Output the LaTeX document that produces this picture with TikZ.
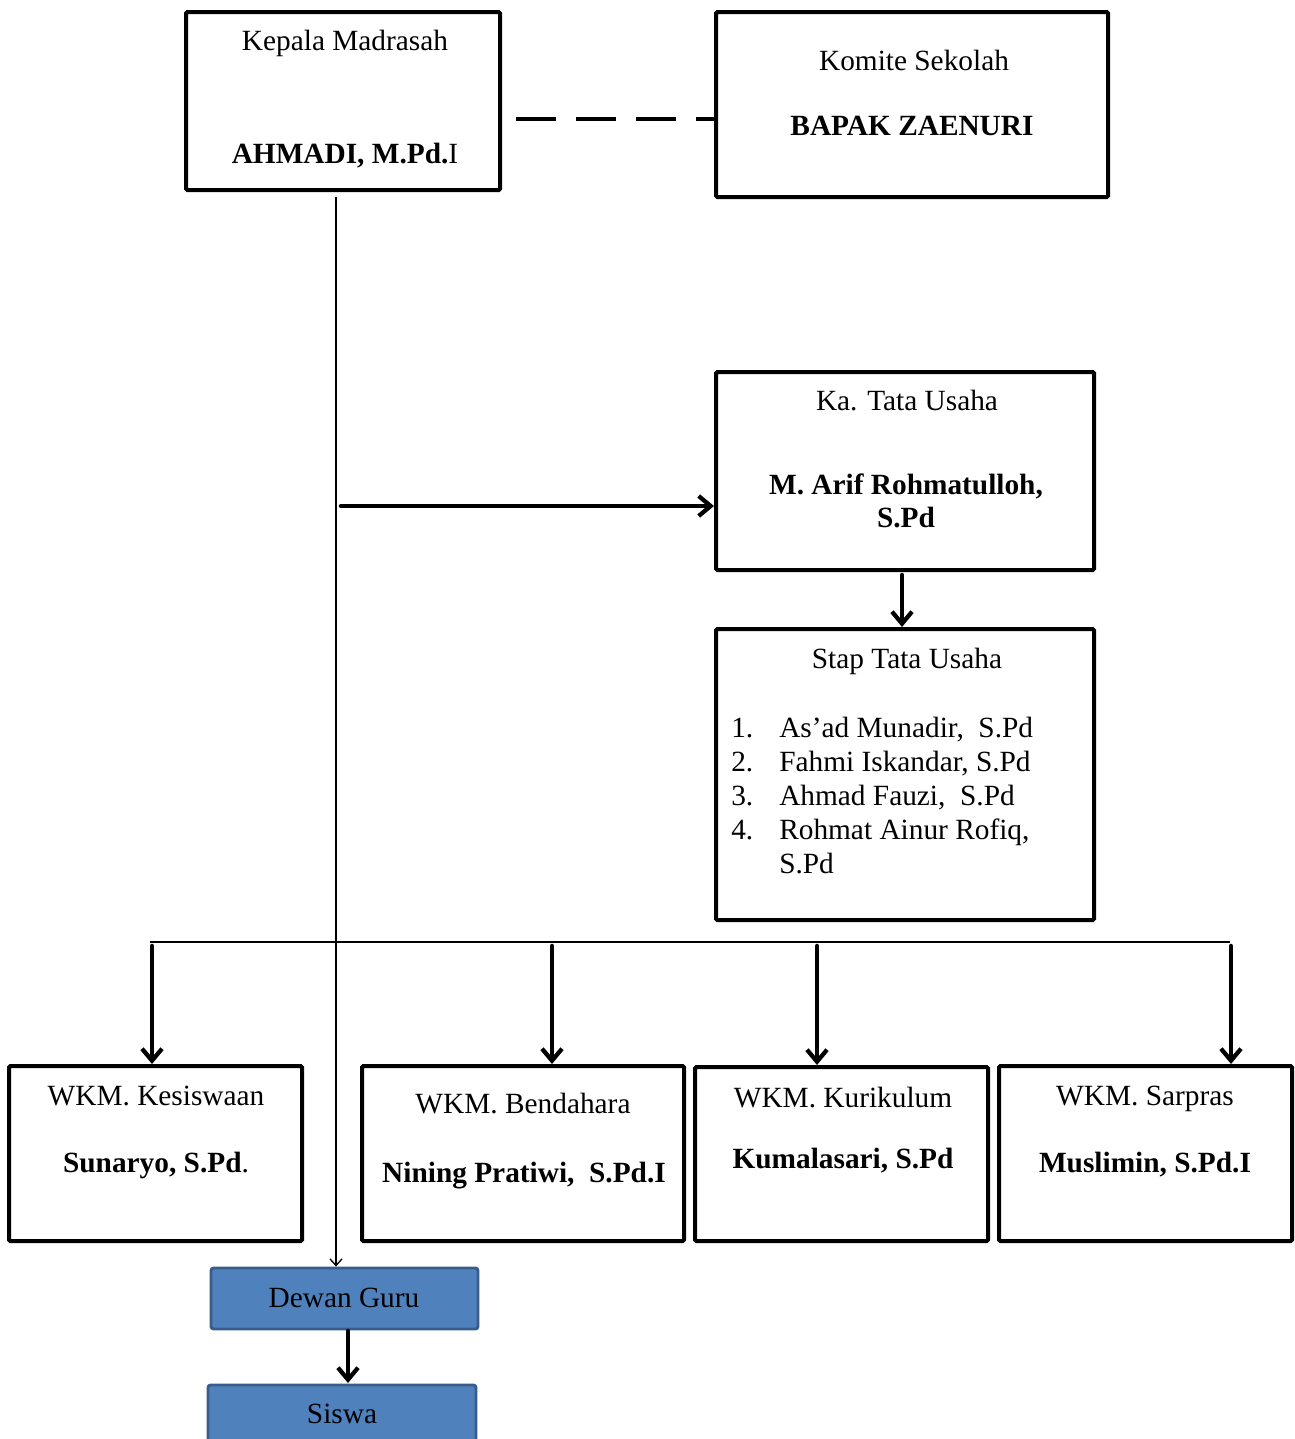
\documentclass[tikz,border=0pt]{standalone}
\usepackage{fontspec}
\setmainfont{Liberation Serif}
\usetikzlibrary{arrows.meta,fit}
\definecolor{boxblue}{HTML}{4F81BD}
\definecolor{boxblueedge}{HTML}{385D8A}
\tikzset{
  box/.style={draw=black, line width=3pt, inner sep=0pt, rounded corners=1pt},
  bluebox/.style={draw=boxblueedge, fill=boxblue, line width=2.2pt, inner sep=0pt, rounded corners=2pt},
  txt/.style={font=\fontsize{22}{26}\selectfont, inner sep=0pt, text height=0.68em, text depth=0.2em, yshift=-4.5pt},
  bold/.style={txt, font=\fontsize{22}{26}\selectfont\bfseries},
  thickarrow/.style={line width=3.4pt, line cap=round, -{Straight Barb[length=9pt,width=15pt,line width=3.2pt]}},
  thinline/.style={line width=1.5pt},
}
\begin{document}
\begin{tikzpicture}[x=0.75pt,y=-0.75pt]
\useasboundingbox (0,0) rectangle (1295,1439);
% corners
\coordinate (k1) at (186,12);   \coordinate (k2) at (500,190);
\coordinate (c1) at (716,12);   \coordinate (c2) at (1108,197);
\coordinate (t1) at (716,372);  \coordinate (t2) at (1094,570);
\coordinate (s1) at (716,629);  \coordinate (s2) at (1094,920);
\coordinate (w11) at (9,1066);  \coordinate (w12) at (302,1241);
\coordinate (w21) at (362,1066);\coordinate (w22) at (684,1241);
\coordinate (w31) at (695,1067);\coordinate (w32) at (988,1241);
\coordinate (w41) at (999,1066);\coordinate (w42) at (1292,1241);
\coordinate (d1) at (211,1268); \coordinate (d2) at (478,1329);
\coordinate (g1) at (208,1385); \coordinate (g2) at (476,1446);

\node[box, fit=(k1)(k2)] (kepala) {};
\node[box, fit=(c1)(c2)] (komite) {};
\node[box, fit=(t1)(t2)] (katu) {};
\node[box, fit=(s1)(s2)] (stap) {};
\node[box, fit=(w11)(w12)] (kes) {};
\node[box, fit=(w21)(w22)] (ben) {};
\node[box, fit=(w31)(w32)] (kur) {};
\node[box, fit=(w41)(w42)] (sar) {};
\node[bluebox, fit=(d1)(d2)] (dewan) {};
\node[bluebox, fit=(g1)(g2)] (siswa) {};

% texts
\node[txt] (kepalaT) at (345,41) {Kepala Madrasah};
\node[txt] (kepalaN) at (345,154) {\textbf{AHMADI, M.Pd.}I};
\node[txt] (komiteT) at (914,61) {Komite Sekolah};
\node[bold] (komiteN) at (912,126) {BAPAK ZAENURI};
\node[txt] (katuT) at (907,401) {Ka. Tata Usaha};
\node[bold] (katuN1) at (906,485) {M. Arif Rohmatulloh,};
\node[bold] (katuN2) at (906,518) {S.Pd};
\node[txt] (stapT) at (907,659) {Stap Tata Usaha};
\node[txt, anchor=west] (n1) at (731,728) {1.};
\node[txt, anchor=west] (n2) at (731,762) {2.};
\node[txt, anchor=west] (n3) at (731,796) {3.};
\node[txt, anchor=west] (n4) at (731,830) {4.};
\node[txt, anchor=west] (l1) at (779,728) {As’ad Munadir,\ \ S.Pd};
\node[txt, anchor=west] (l2) at (779,762) {Fahmi Iskandar, S.Pd};
\node[txt, anchor=west] (l3) at (779,796) {Ahmad Fauzi,\ \ S.Pd};
\node[txt, anchor=west] (l4) at (779,830) {Rohmat Ainur Rofiq,};
\node[txt, anchor=west] (l5) at (779,864) {S.Pd};
\node[txt] (kesT) at (156,1096) {WKM.\ Kesiswaan};
\node[txt] (kesN) at (156,1163) {\textbf{Sunaryo, S.Pd}.};
\node[txt] (benT) at (523,1104) {WKM.\ Bendahara};
\node[bold] (benN) at (524,1173) {Nining Pratiwi,\ \ S.Pd.I};
\node[txt] (kurT) at (843,1098) {WKM.\ Kurikulum};
\node[bold] (kurN) at (843,1159) {Kumalasari, S.Pd};
\node[txt] (sarT) at (1145,1096) {WKM.\ Sarpras};
\node[bold] (sarN) at (1145,1163) {Muslimin, S.Pd.I};
\node[txt] (dewanT) at (344,1298) {Dewan Guru};
\node[txt] (siswaT) at (342,1414) {Siswa};

% connectors
\coordinate (dashEnd) at (516,119);
\draw[line width=3pt, dash pattern=on 30pt off 15pt] (dashEnd) -- (komite.west |- dashEnd);

\coordinate (vtop) at (336,197);
\draw[thinline, -{Straight Barb[length=5pt,width=9pt,line width=1pt]}] (vtop) -- (vtop |- dewan.north);

\coordinate (hstart) at (341,506);
\draw[thickarrow] (hstart) -- (katu.west |- hstart);

\draw[thickarrow] (902,575) -- (stap.north -| 902,0);

\coordinate (busL) at (150,942);
\coordinate (busR) at (1230,942);
\draw[thinline] (busL) -- (busR);

\draw[thickarrow] (152,946) -- (152,1064);
\draw[thickarrow] (552,946) -- (552,1064);
\draw[thickarrow] (817,946) -- (817,1065);
\draw[thickarrow] (1231,946) -- (1231,1064);

\draw[thickarrow] (348,1331) -- (348,1383);
\end{tikzpicture}
\end{document}
